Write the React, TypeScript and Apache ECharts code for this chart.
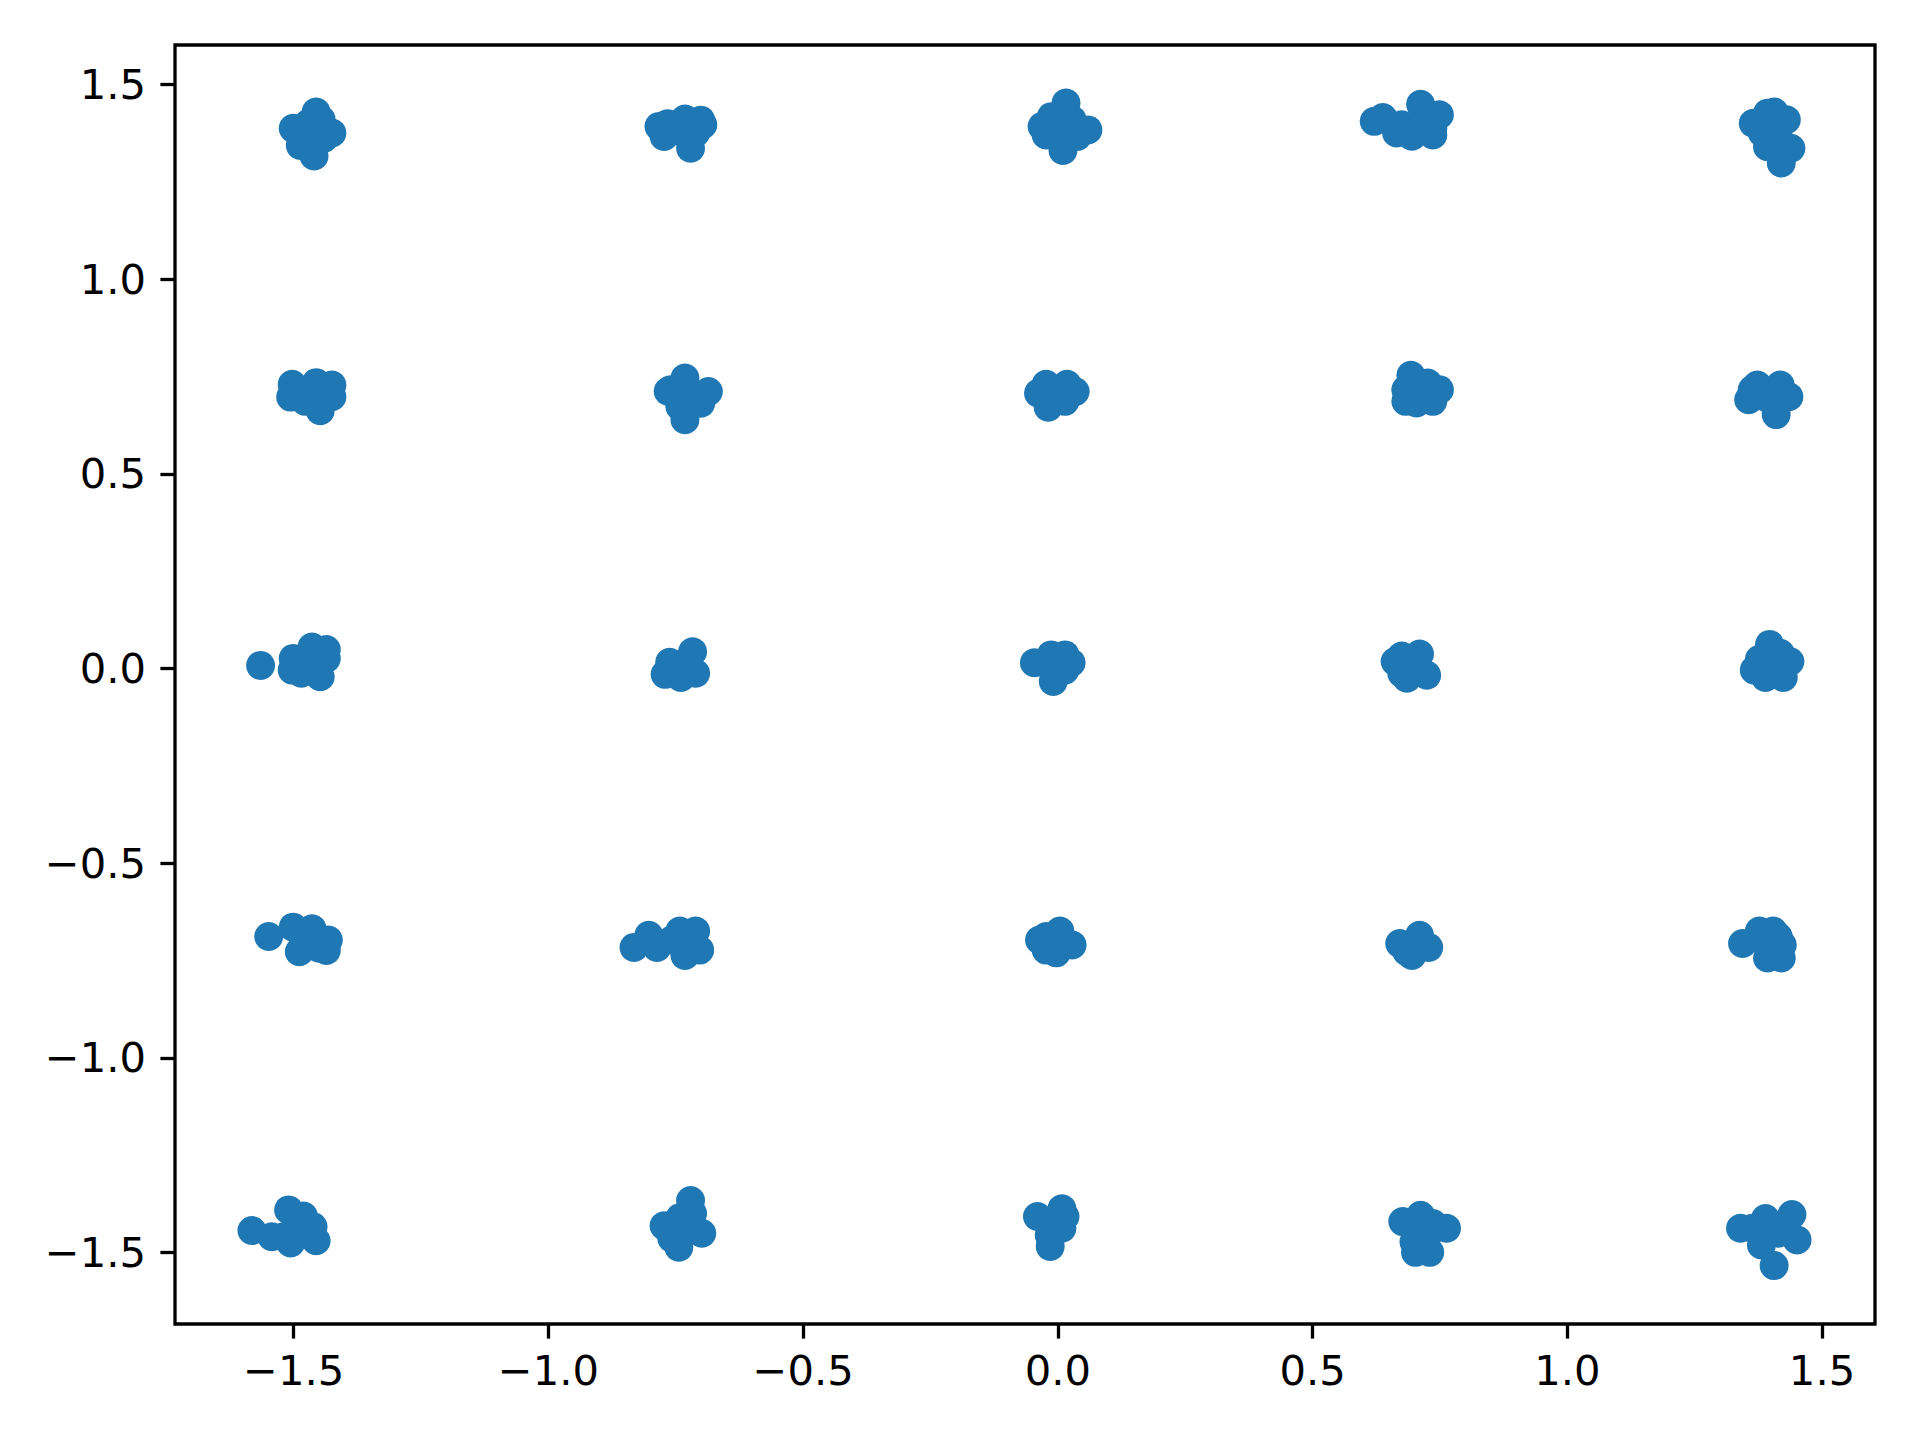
import React, { useEffect, useRef } from "react";
import * as echarts from "echarts";

// Tick values for both axes
const xTicks = [-1.5, -1.0, -0.5, 0.0, 0.5, 1.0, 1.5];
const yTicks = [-1.5, -1.0, -0.5, 0.0, 0.5, 1.0, 1.5];

// Received constellation points
const row1: [number, number][] = [
  [-1.456, 1.429], [-1.501, 1.387], [-1.425, 1.375], [-1.487, 1.343], [-1.460, 1.316],
  [-1.446, 1.409], [-1.464, 1.379], [-1.471, 1.400], [-1.440, 1.362],
  [-0.783, 1.392], [-0.766, 1.399], [-0.732, 1.411], [-0.701, 1.408], [-0.697, 1.396],
  [-0.721, 1.336], [-0.773, 1.366], [-0.742, 1.379], [-0.711, 1.375],
  [0.016, 1.452], [-0.031, 1.392], [0.059, 1.383], [0.010, 1.330], [0.028, 1.409],
  [-0.013, 1.417], [-0.003, 1.379], [0.038, 1.366], [-0.023, 1.370],
  [0.621, 1.405], [0.712, 1.449], [0.749, 1.422], [0.736, 1.370], [0.695, 1.367],
  [0.638, 1.415], [0.675, 1.396], [0.716, 1.409], [0.706, 1.383], [0.665, 1.375], [0.736, 1.387],
  [1.406, 1.429], [1.365, 1.400], [1.430, 1.409], [1.439, 1.336], [1.420, 1.298],
  [1.393, 1.340], [1.383, 1.375], [1.414, 1.366], [1.393, 1.426],
];

const row2: [number, number][] = [
  [-1.503, 0.730], [-1.506, 0.697], [-1.456, 0.734], [-1.425, 0.728], [-1.425, 0.698],
  [-1.448, 0.662], [-1.477, 0.686], [-1.450, 0.707], [-1.471, 0.716],
  [-0.732, 0.746], [-0.760, 0.716], [-0.686, 0.711], [-0.701, 0.681], [-0.732, 0.639],
  [-0.742, 0.673], [-0.721, 0.698], [-0.765, 0.712],
  [-0.023, 0.730], [0.018, 0.730], [-0.038, 0.707], [0.034, 0.711], [-0.019, 0.671],
  [0.014, 0.686], [-0.003, 0.703],
  [0.693, 0.753], [0.683, 0.716], [0.683, 0.686], [0.749, 0.716], [0.704, 0.682],
  [0.726, 0.733], [0.716, 0.694], [0.736, 0.686],
  [1.373, 0.728], [1.418, 0.728], [1.356, 0.690], [1.435, 0.698], [1.410, 0.652],
  [1.393, 0.694], [1.414, 0.711], [1.363, 0.716],
];

const row3: [number, number][] = [
  [-1.565, 0.008], [-1.501, 0.026], [-1.503, -0.004], [-1.464, 0.055], [-1.436, 0.049],
  [-1.436, 0.026], [-1.448, -0.021], [-1.485, -0.012], [-1.464, 0.018], [-1.460, 0.001],
  [-0.717, 0.043], [-0.762, 0.016], [-0.771, -0.015], [-0.711, -0.012], [-0.740, -0.023],
  [-0.732, 0.001], [-0.725, 0.022],
  [-0.013, 0.035], [0.014, 0.035], [-0.046, 0.015], [0.026, 0.015], [-0.009, -0.033],
  [0.014, -0.004], [-0.013, 0.001],
  [0.710, 0.037], [0.675, 0.032], [0.662, 0.018], [0.724, -0.017], [0.685, -0.025],
  [0.695, 0.001], [0.675, -0.012],
  [1.397, 0.062], [1.377, 0.024], [1.367, -0.004], [1.437, 0.018], [1.389, -0.023],
  [1.424, -0.023], [1.404, 0.009], [1.418, 0.039],
];

const row4: [number, number][] = [
  [-1.549, -0.688], [-1.501, -0.664], [-1.464, -0.668], [-1.489, -0.727], [-1.432, -0.697],
  [-1.436, -0.724], [-1.460, -0.697], [-1.481, -0.688], [-1.450, -0.718],
  [-0.832, -0.716], [-0.803, -0.685], [-0.787, -0.716], [-0.742, -0.674], [-0.711, -0.674],
  [-0.703, -0.723], [-0.732, -0.737], [-0.758, -0.697], [-0.721, -0.706],
  [0.004, -0.674], [-0.036, -0.697], [0.028, -0.710], [-0.003, -0.730], [-0.023, -0.688],
  [0.008, -0.706], [-0.023, -0.723],
  [0.710, -0.685], [0.671, -0.706], [0.728, -0.716], [0.695, -0.737], [0.685, -0.727],
  [0.706, -0.706],
  [1.377, -0.674], [1.404, -0.674], [1.344, -0.706], [1.422, -0.710], [1.393, -0.743],
  [1.420, -0.743], [1.383, -0.697], [1.414, -0.688],
];

const row5: [number, number][] = [
  [-1.582, -1.443], [-1.510, -1.390], [-1.481, -1.406], [-1.520, -1.459], [-1.462, -1.433],
  [-1.456, -1.469], [-1.506, -1.475], [-1.543, -1.459], [-1.491, -1.442],
  [-0.721, -1.366], [-0.742, -1.410], [-0.773, -1.431], [-0.699, -1.450], [-0.744, -1.486],
  [-0.717, -1.399], [-0.725, -1.433], [-0.758, -1.463],
  [0.008, -1.387], [-0.040, -1.407], [0.014, -1.407], [0.008, -1.437], [-0.017, -1.455],
  [-0.015, -1.484], [-0.013, -1.425],
  [0.712, -1.404], [0.677, -1.420], [0.763, -1.437], [0.702, -1.499], [0.730, -1.499],
  [0.699, -1.472], [0.726, -1.455], [0.736, -1.425],
  [1.340, -1.437], [1.389, -1.412], [1.441, -1.402], [1.451, -1.467], [1.406, -1.533],
  [1.381, -1.480], [1.414, -1.450], [1.363, -1.437],
];

const points = [...row1, ...row2, ...row3, ...row4, ...row5];

const fmt = (v: number) => (v < 0 ? "\u2212" + Math.abs(v).toFixed(1) : v.toFixed(1));

export default function App() {
  const ref = useRef<HTMLDivElement>(null);
  useEffect(() => {
    if (!ref.current) return;
    const chart = echarts.init(ref.current, null, { renderer: "svg" });
    const font = "DejaVu Sans";
    const axisCommon = {
      type: "value" as const,
      axisLine: { show: false, onZero: false },
      splitLine: { show: false },
    };
    chart.setOption({
      animation: false,
      backgroundColor: "#ffffff",
      grid: {
        left: 175,
        right: 45,
        top: 45,
        bottom: 116,
        show: true,
        borderColor: "#000000",
        borderWidth: 3.3,
        backgroundColor: "transparent",
      },
      xAxis: {
        ...axisCommon,
        position: "bottom",
        min: -1.733,
        max: 1.604,
        axisTick: {
          show: true,
          inside: false,
          length: 14.6,
          lineStyle: { color: "#000", width: 3.3 },
          customValues: xTicks,
        },
        axisLabel: {
          show: true,
          margin: 25,
          fontSize: 41.7,
          fontFamily: font,
          color: "#000",
          customValues: xTicks,
          formatter: (v: number) => fmt(v),
        },
      },
      yAxis: {
        ...axisCommon,
        position: "left",
        min: -1.683,
        max: 1.601,
        axisTick: {
          show: true,
          inside: false,
          length: 14.6,
          lineStyle: { color: "#000", width: 3.3 },
          customValues: yTicks,
        },
        axisLabel: {
          show: true,
          margin: 29,
          fontSize: 41.7,
          fontFamily: font,
          color: "#000",
          customValues: yTicks,
          formatter: (v: number) => fmt(v),
        },
      },
      series: [
        {
          type: "scatter",
          data: points,
          symbol: "circle",
          symbolSize: 29,
          itemStyle: { color: "#1f77b4", opacity: 1 },
          emphasis: { disabled: true },
        },
      ],
    });
    return () => chart.dispose();
  }, []);
  return (
    <div
      ref={ref}
      style={{ position: "absolute", left: 0, top: 0, width: 1920, height: 1440, background: "#fff" }}
    />
  );
}
